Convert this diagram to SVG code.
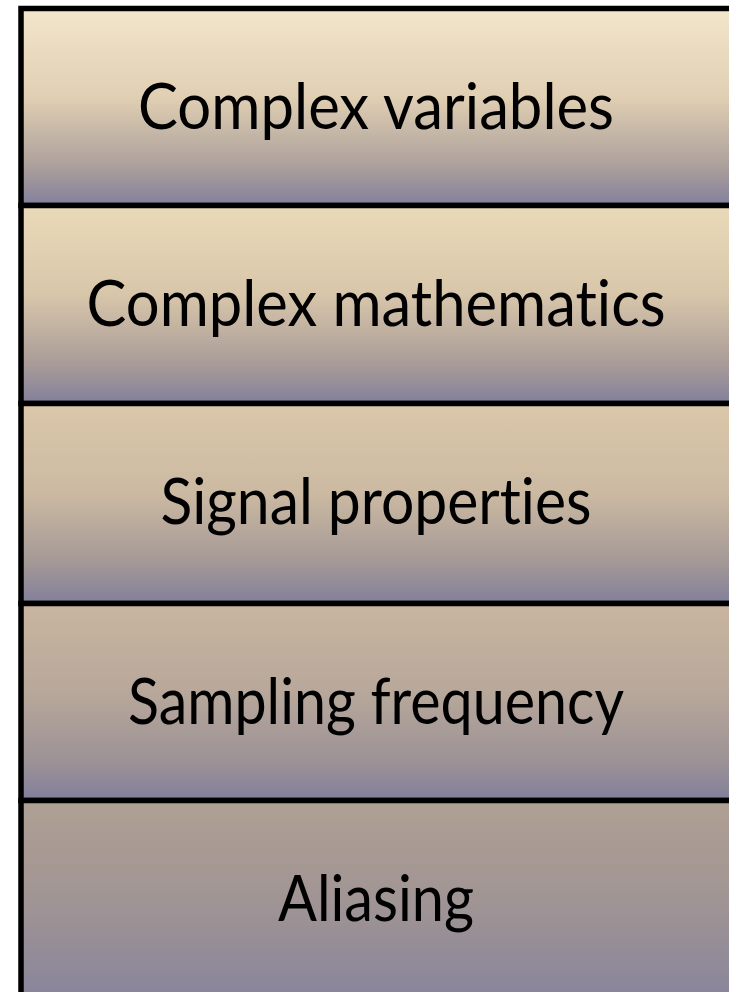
<svg xmlns="http://www.w3.org/2000/svg" width="729" height="992" viewBox="0 0 729 992">
  <defs>
    <linearGradient id="g1" x1="0" y1="0" x2="0" y2="1">
      <stop offset="0" stop-color="#f3e6cb"/>
      <stop offset="0.45" stop-color="#e0cfb3"/>
      <stop offset="0.8" stop-color="#aca09b"/>
      <stop offset="1" stop-color="#827f9b"/>
    </linearGradient>
    <linearGradient id="g2" x1="0" y1="0" x2="0" y2="1">
      <stop offset="0" stop-color="#eadab9"/>
      <stop offset="0.45" stop-color="#d8c6aa"/>
      <stop offset="0.8" stop-color="#a99c98"/>
      <stop offset="1" stop-color="#827f9b"/>
    </linearGradient>
    <linearGradient id="g3" x1="0" y1="0" x2="0" y2="1">
      <stop offset="0" stop-color="#dbc8aa"/>
      <stop offset="0.45" stop-color="#cbb9a2"/>
      <stop offset="0.8" stop-color="#a39896"/>
      <stop offset="1" stop-color="#827f9b"/>
    </linearGradient>
    <linearGradient id="g4" x1="0" y1="0" x2="0" y2="1">
      <stop offset="0" stop-color="#c9b59f"/>
      <stop offset="0.45" stop-color="#b8a89b"/>
      <stop offset="0.8" stop-color="#9c9296"/>
      <stop offset="1" stop-color="#827f9b"/>
    </linearGradient>
    <linearGradient id="g5" x1="0" y1="0" x2="0" y2="1">
      <stop offset="0" stop-color="#afa093"/>
      <stop offset="0.45" stop-color="#a19594"/>
      <stop offset="0.85" stop-color="#8c879a"/>
      <stop offset="1" stop-color="#827f9b"/>
    </linearGradient>
  </defs>
  <style>
    .box { stroke: #000; stroke-width: 5.5; }
    .lbl { font-family: "Lato", "Open Sans", "Liberation Sans", sans-serif; font-size: 64px; fill: #000; text-anchor: middle; font-variant-ligatures: none; font-feature-settings: "liga" 0; }
  </style>
  <rect x="0" y="0" width="729" height="992" fill="#ffffff"/>
  <g id="box1">
    <rect class="box" x="21" y="8.5" width="730" height="197" fill="url(#g1)"/>
    <text class="lbl" x="376" y="129" textLength="476" lengthAdjust="spacingAndGlyphs">Complex variables</text>
  </g>
  <g id="box2">
    <rect class="box" x="21" y="205.5" width="730" height="198" fill="url(#g2)"/>
    <text class="lbl" x="376" y="326" textLength="579" lengthAdjust="spacingAndGlyphs">Complex mathematics</text>
  </g>
  <g id="box3">
    <rect class="box" x="21" y="403.5" width="730" height="200" fill="url(#g3)"/>
    <text class="lbl" x="376" y="524" textLength="431" lengthAdjust="spacingAndGlyphs">Signal properties</text>
  </g>
  <g id="box4">
    <rect class="box" x="21" y="603.5" width="730" height="197" fill="url(#g4)"/>
    <text class="lbl" x="376" y="724" textLength="496" lengthAdjust="spacingAndGlyphs">Sampling frequency</text>
  </g>
  <g id="box5">
    <rect class="box" x="21" y="800.5" width="730" height="215" fill="url(#g5)"/>
    <text class="lbl" x="376" y="921" textLength="196" lengthAdjust="spacingAndGlyphs">Aliasing</text>
  </g>
  <g id="connectors"></g>
</svg>
